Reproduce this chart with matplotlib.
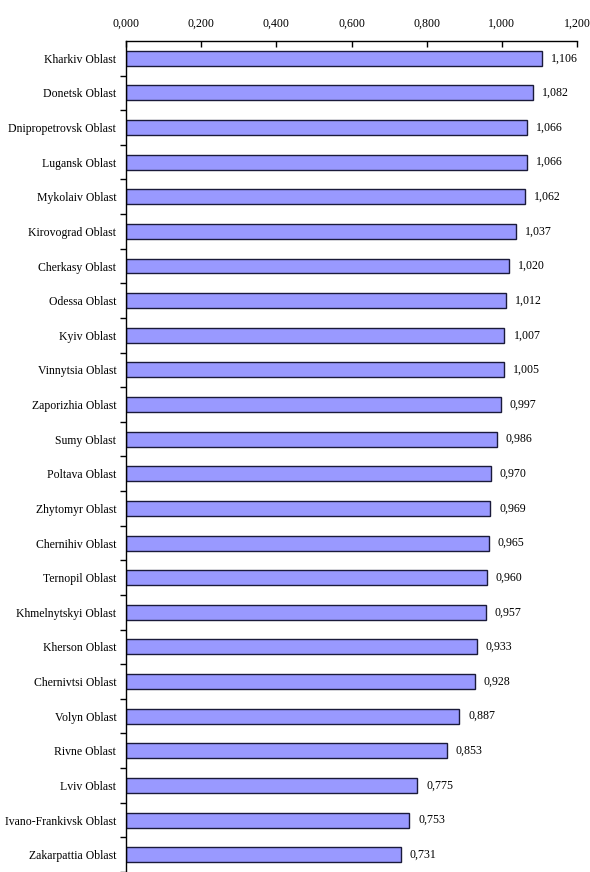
import numpy as np
import matplotlib.pyplot as plt
from matplotlib.ticker import FuncFormatter

regions = ["Kharkiv Oblast", "Donetsk Oblast", "Dnipropetrovsk Oblast", "Lugansk Oblast",
           "Mykolaiv Oblast", "Kirovograd Oblast", "Cherkasy Oblast", "Odessa Oblast",
           "Kyiv Oblast", "Vinnytsia Oblast", "Zaporizhia Oblast", "Sumy Oblast",
           "Poltava Oblast", "Zhytomyr Oblast", "Chernihiv Oblast", "Ternopil Oblast",
           "Khmelnytskyi Oblast", "Kherson Oblast", "Chernivtsi Oblast", "Volyn Oblast",
           "Rivne Oblast", "Lviv Oblast", "Ivano-Frankivsk Oblast", "Zakarpattia Oblast"]
values = [1.106, 1.082, 1.066, 1.066, 1.062, 1.037, 1.020, 1.012, 1.007, 1.005,
          0.997, 0.986, 0.970, 0.969, 0.965, 0.960, 0.957, 0.933, 0.928, 0.887,
          0.853, 0.775, 0.753, 0.731]
xticks = [0.0, 0.2, 0.4, 0.6, 0.8, 1.0, 1.2]

plt.rcParams['font.family'] = ['Liberation Serif', 'DejaVu Serif']

fig = plt.figure(figsize=(5.9, 8.72), dpi=100)
ax = fig.add_axes([0.2136, 0.0, 0.7644, 0.953])

y = np.arange(len(regions))
ax.barh(y, values, height=0.43, color='#9999FF', edgecolor='#1a1a3a', linewidth=1.0)

def comma(v, pos=None):
    return f"{v:.3f}".replace('.', ',')

# value labels to the right of each bar
for yi, v in zip(y, values):
    ax.text(v + 0.024, yi, comma(v), va='center', ha='left', fontsize=8.6)

ax.set_ylim(len(regions) - 0.5, -0.5)
ax.set_xlim(0, 1.2)
ax.set_yticks(y)
ax.set_yticklabels(regions, fontsize=8.5)
ax.set_yticks(np.arange(len(regions)) + 0.5, minor=True)
ax.tick_params(axis='y', which='major', length=0, pad=7)
ax.tick_params(axis='y', which='minor', length=4, direction='out', width=1)

ax.xaxis.tick_top()
ax.set_xticks(xticks)
ax.xaxis.set_major_formatter(FuncFormatter(comma))
ax.tick_params(axis='x', length=4, direction='in', labelsize=8.6, pad=8, width=1)

ax.spines['right'].set_visible(False)
ax.spines['bottom'].set_visible(False)
ax.spines['left'].set_linewidth(1.0)
ax.spines['top'].set_linewidth(1.0)

fig.savefig('out.png', dpi=100)
